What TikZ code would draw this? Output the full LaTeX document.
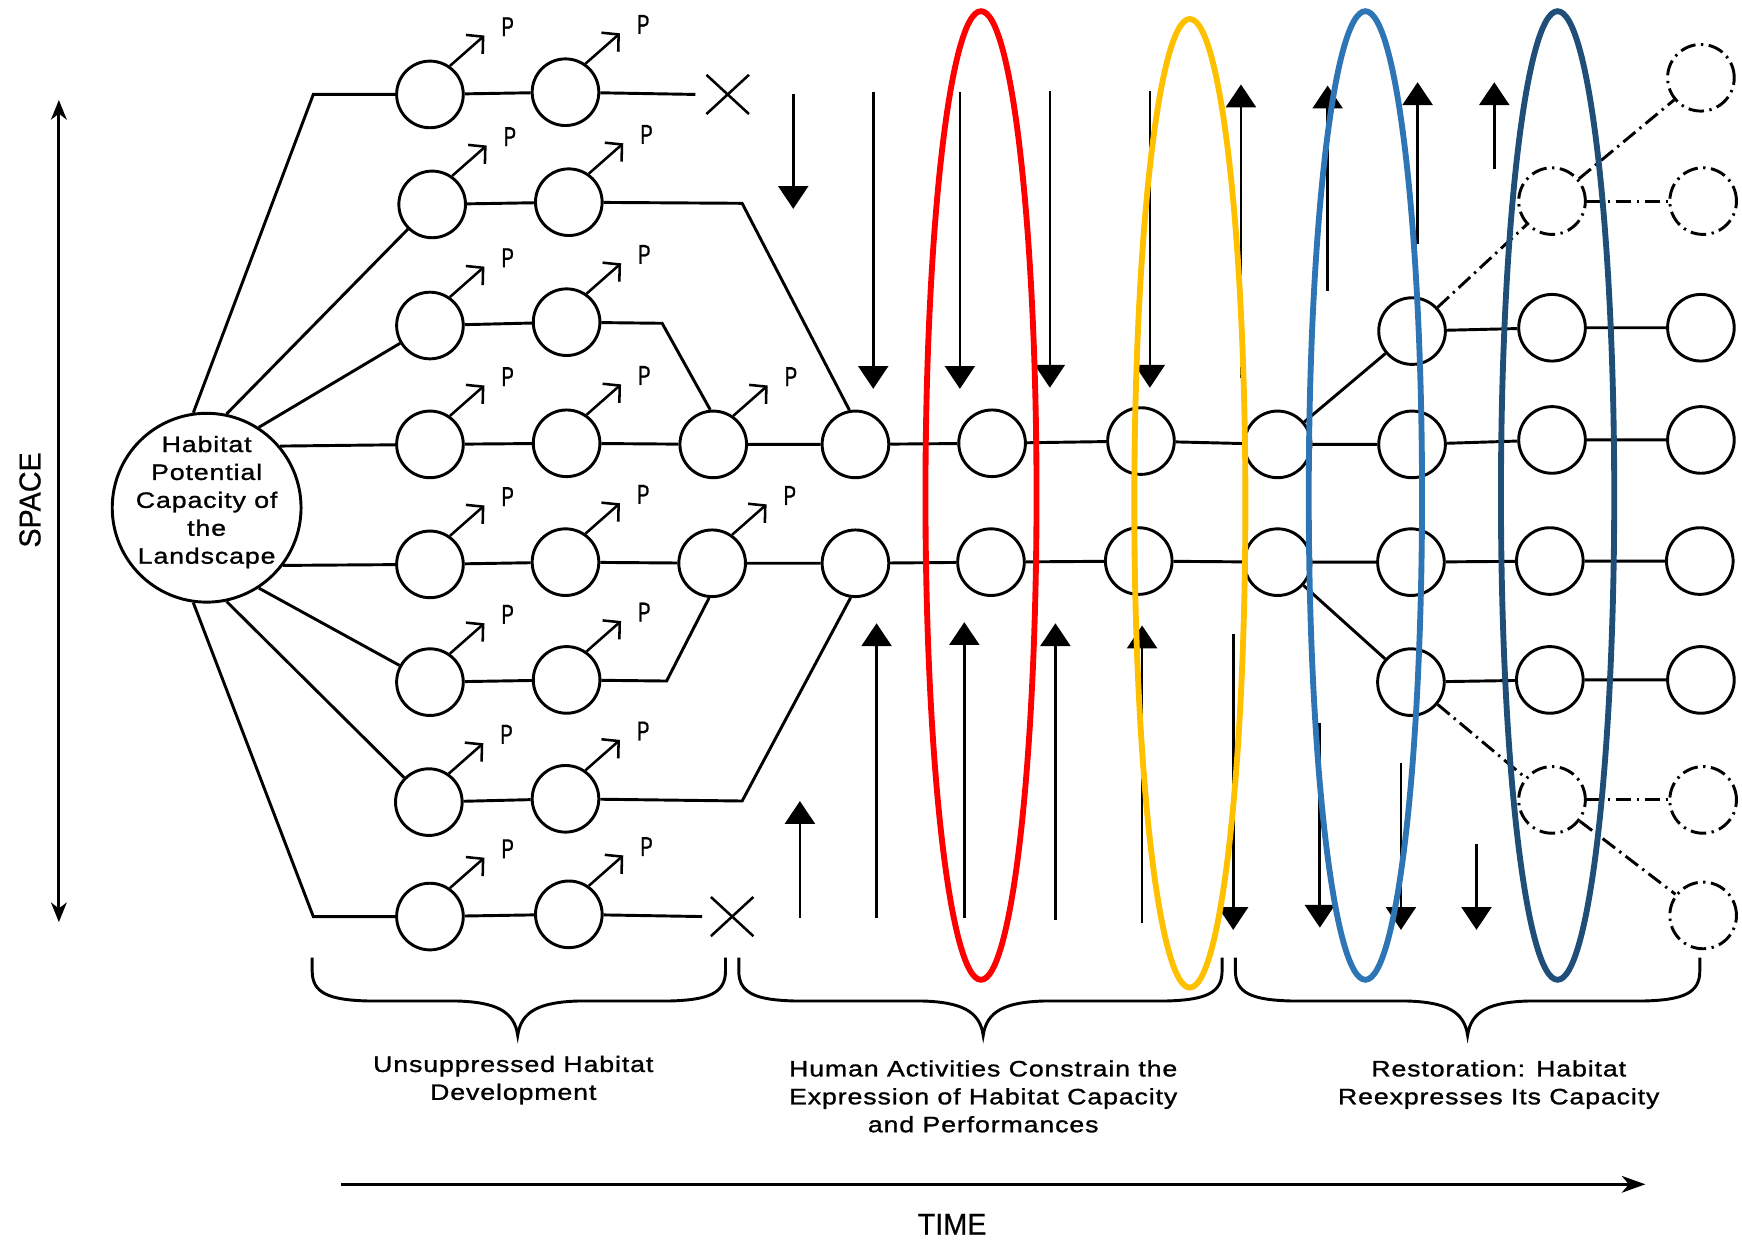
\documentclass[tikz,border=0pt]{standalone}
\usepackage{fontspec}
\setmainfont{Liberation Sans}
\newfontfamily\labelfont[FakeStretch=1.2,LetterSpace=4,FakeBold=1.2]{Liberation Sans}
\newfontfamily\pfont[FakeStretch=0.68,FakeBold=0.8]{Liberation Sans}
\newfontfamily\axisfont[FakeStretch=0.95,FakeBold=0.6]{Liberation Sans}
\usetikzlibrary{arrows.meta,shapes.misc,calc}

\definecolor{ellred}{HTML}{FF0000}
\definecolor{ellgold}{HTML}{FFC000}
\definecolor{ellblue}{HTML}{2E75B6}
\definecolor{elldark}{HTML}{1F4E79}

% curly brace drawn from x1 to x2 with its point at xm
\newcommand{\habbrace}[4]{%
  \draw[bracestyle] (#1,#4) -- (#1,{#4+12})
    .. controls (#1,{#4+32}) and ({#1+15},{#4+38}) .. ({#1+50},{#4+39})
    -- ({#2-55},{#4+39})
    .. controls ({#2-20},{#4+40}) and ({#2-3},{#4+48}) .. (#2,{#4+70})
    .. controls ({#2+3},{#4+48}) and ({#2+20},{#4+40}) .. ({#2+55},{#4+39})
    -- ({#3-50},{#4+39})
    .. controls ({#3-15},{#4+38}) and (#3,{#4+32}) .. (#3,{#4+12})
    -- (#3,#4);}

\begin{document}
\begin{tikzpicture}[x=0.02cm,y=-0.02cm,
  site/.style={circle,draw,line width=1.5pt,minimum size=1.2cm,inner sep=0pt,fill=white},
  future/.style={site,dash pattern=on 8pt off 2.8pt on 1.2pt off 2.8pt},
  link/.style={line width=1.5pt},
  futurelink/.style={line width=1.5pt,dash pattern=on 8pt off 2.8pt on 1.2pt off 2.8pt},
  parrow/.style={line width=1.3pt,-{Straight Barb[length=6pt,width=13pt]}},
  ptext/.style={font=\pfont\fontsize{14pt}{15pt}\selectfont,inner sep=0pt},
  pressure/.style={line width=1.4pt,-{Triangle[length=11.7pt,width=15.3pt]}},
  stopmark/.style={cross out,draw,line width=1.3pt,minimum width=0.72cm,minimum height=0.66cm,inner sep=0pt},
  labeltext/.style={align=center,inner sep=0pt,font=\labelfont\fontsize{11.4pt}{14.3pt}\selectfont},
  axistext/.style={inner sep=0pt,font=\axisfont\fontsize{15.5pt}{18pt}\selectfont},
  axisline/.style={line width=1.6pt},
  bracestyle/.style={line width=1.5pt},
  ring/.style={line width=3pt}
]
\useasboundingbox (0,0) rectangle (1568,1122);

% landscape hub
\node[circle,draw,line width=1.5pt,minimum size=3.4cm,inner sep=0pt] (hub) at (186,457) {};
\node[labeltext,anchor=north] (hubtext) at (186,392)
  {Habitat\\Potential\\Capacity of\\the\\Landscape};

% habitat sites, unsuppressed development
\node[site] (c11) at (387,85) {};  \node[site] (c12) at (509,83) {};
\node[site] (c21) at (389,184) {}; \node[site] (c22) at (512,182) {};
\node[site] (c31) at (387,293) {}; \node[site] (c32) at (510,290) {};
\node[site] (c41) at (387,400) {}; \node[site] (c42) at (510,399) {};
\node[site] (c43) at (642,400) {};
\node[site] (c51) at (387,508) {}; \node[site] (c52) at (509,506) {};
\node[site] (c53) at (641,507) {};
\node[site] (c61) at (387,614) {}; \node[site] (c62) at (510,612) {};
\node[site] (c71) at (386,722) {}; \node[site] (c72) at (509,719) {};
\node[site] (c81) at (387,825) {}; \node[site] (c82) at (512,823) {};

% constrained and restored sites
\node[site] (c44) at (770,400) {};  \node[site] (c45) at (893,399) {};
\node[site] (c46) at (1027,397) {}; \node[site] (c47) at (1150,400) {};
\node[site] (c48) at (1271,400) {}; \node[site] (c49) at (1397,396) {};
\node[site] (c410) at (1531,396) {};
\node[site] (c54) at (770,507) {};  \node[site] (c55) at (892,506) {};
\node[site] (c56) at (1025,505) {}; \node[site] (c57) at (1150,506) {};
\node[site] (c58) at (1270,506) {}; \node[site] (c59) at (1395,505) {};
\node[site] (c510) at (1530,505) {};
\node[site] (c35) at (1271,298) {}; \node[site] (c39) at (1397,295) {};
\node[site] (c310) at (1531,295) {};
\node[site] (c65) at (1270,614) {}; \node[site] (c69) at (1395,612) {};
\node[site] (c610) at (1531,612) {};

% potential sites
\node[future] (d1) at (1531,70) {};
\node[future] (d2) at (1397,181) {};
\node[future] (d3) at (1533,181) {};
\node[future] (d4) at (1397,720) {};
\node[future] (d5) at (1533,720) {};
\node[future] (d6) at (1533,824) {};

% lost branches
\node[stopmark] (xa) at (655,85) {};
\node[stopmark] (xb) at (659,825) {};
\coordinate (e1) at (626,85);
\coordinate (e8) at (632,825);

% bends
\coordinate (b1) at (282,85);
\coordinate (b2) at (668,183);
\coordinate (b3) at (596,291);
\coordinate (b6) at (600,613);
\coordinate (b7) at (668,721);
\coordinate (b8) at (282,825);

% branches
\draw[link] (hub.98) -- (b1) -- (c11) -- (c12) -- (e1);
\draw[link] (hub.78) -- (c21) -- (c22) -- (b2) -- (c44.100);
\draw[link] (hub.57) -- (c31) -- (c32) -- (b3) -- (c43.95);
\draw[link] (hub.40) -- (c41) -- (c42) -- (c43) -- (c44) -- (c45) -- (c46)
  -- (c47) -- (c48) -- (c49) -- (c410);
\draw[link] (hub.-37) -- (c51) -- (c52) -- (c53) -- (c54) -- (c55) -- (c56)
  -- (c57) -- (c58) -- (c59) -- (c510);
\draw[link] (hub.-57) -- (c61) -- (c62) -- (b6) -- (c53.-95);
\draw[link] (hub.-78) -- (c71) -- (c72) -- (b7) -- (c54.-98);
\draw[link] (hub.-98) -- (b8) -- (c81) -- (c82) -- (e8);
\draw[link] (c47) -- (c35) -- (c39) -- (c310);
\draw[link] (c57) -- (c65) -- (c69) -- (c610);
\draw[futurelink] (c35) -- (d2);
\draw[futurelink] (d2) -- (d1);
\draw[futurelink] (d2) -- (d3);
\draw[futurelink] (c65) -- (d4);
\draw[futurelink] (d4) -- (d5);
\draw[futurelink] (d4) -- (d6);

% production arrows
\foreach \c in {c11,c12,c21,c22,c31,c32,c41,c42,c43,c51,c52,c53,c61,c62,c71,c72,c81,c82}{
  \coordinate (tip\c) at ($(\c)+(49,-53)$);
  \draw[parrow] (\c.55) -- (tip\c);
  \node[ptext] (p\c) at ($(\c)+(70,-61)$) {P};
}

% human pressures and their release
\foreach \x/\a/\b in {714/85/188, 786/83/350, 864/83/350, 945/82/349, 1035/82/349,
    1117/340/76, 1195/262/77, 1276/220/74, 1345/152/74,
    720/826/721, 789/826/561, 868/826/560, 950/828/561, 1028/831/563,
    1110/571/837, 1188/651/835, 1261/687/837, 1329/760/837}{
  \draw[pressure] (\x,\a) -- (\x,\b);
}

% phase braces
\habbrace{281}{466}{653}{862}
\habbrace{665}{885}{1100}{862}
\habbrace{1112}{1321}{1530}{862}

\node[labeltext,anchor=north] (lab1) at (462,950) {Unsuppressed Habitat\\Development};
\node[labeltext,anchor=north] (lab2) at (885,954)
  {Human Activities Constrain the\\Expression of Habitat Capacity\\and Performances};
\node[labeltext,anchor=north] (lab3) at (1349,954) {Restoration: Habitat\\Reexpresses Its Capacity};

% axes
\coordinate (t0) at (307,1066);
\coordinate (t1) at (1481,1066);
\draw[axisline,-{Stealth[length=12pt,width=8.5pt,inset=3.5pt]}] (t0) -- (t1);
\node[axistext] (time) at (857,1102) {TIME};
\coordinate (s0) at (53,90);
\coordinate (s1) at (53,830);
\draw[axisline,{Stealth[length=10pt,width=8pt,inset=3pt]}-{Stealth[length=10pt,width=8pt,inset=3pt]}] (s0) -- (s1);
\node[axistext,rotate=90] (space) at (27,450) {SPACE};

% highlighted snapshots
\draw[ring,ellred]  (883,446)  ellipse [x radius=1cm, y radius=8.72cm];
\draw[ring,ellgold] (1071,453) ellipse [x radius=1cm, y radius=8.72cm];
\draw[ring,ellblue] (1229,446) ellipse [x radius=1.02cm, y radius=8.72cm];
\draw[ring,elldark] (1402,446) ellipse [x radius=1.02cm, y radius=8.72cm];
\end{tikzpicture}
\end{document}
